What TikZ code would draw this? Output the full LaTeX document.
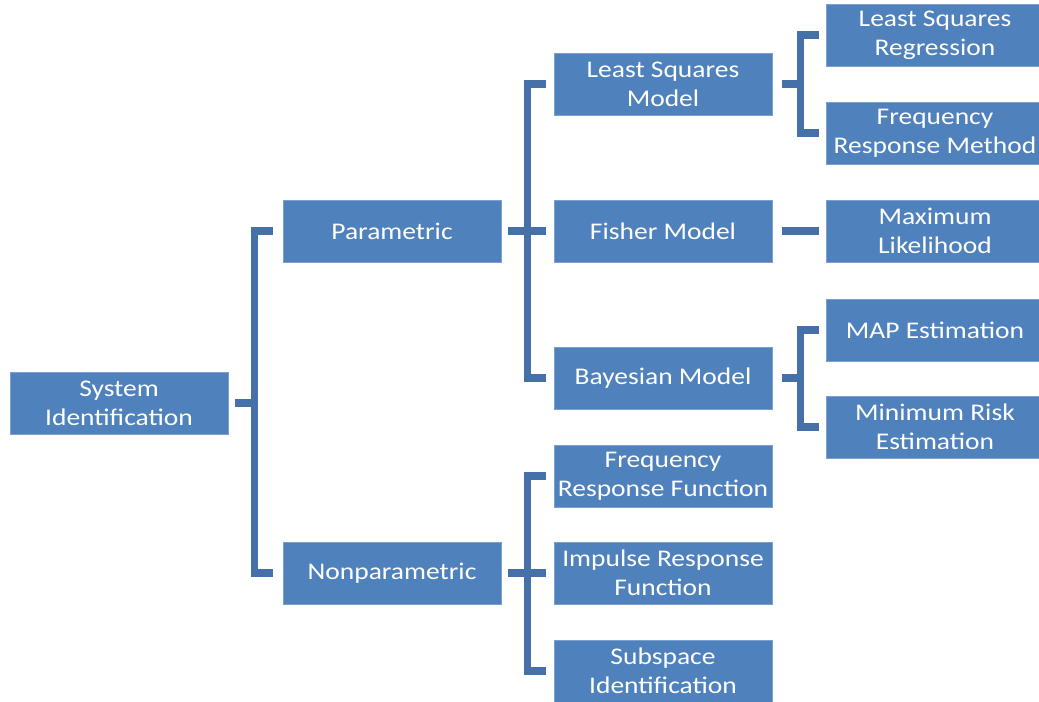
\documentclass[tikz,border=0pt]{standalone}
\usepackage{fontspec}
\setmainfont{Carlito}[FakeStretch=1.15]
\usepackage{xcolor}
\usepackage{tikz}
\usetikzlibrary{positioning,calc}
\definecolor{boxblue}{HTML}{4F81BD}
\definecolor{linkblue}{HTML}{4670A8}
\tikzset{
    idbox/.style={rectangle, fill=boxblue, draw=boxblue!75!white, line width=0.5pt,
        minimum width=5.45cm, minimum height=1.55cm, inner sep=0pt,
        text=white, align=center, font=\fontsize{17}{20.5}\selectfont},
    link/.style={linkblue, line width=5pt}
}

\begin{document}
\begin{tikzpicture}[x=0.025cm, y=-0.025cm]
    \useasboundingbox (0,0) rectangle (1039,702);

    % Root
    \node[idbox] (sysid) at (119,403) {System\\Identification};

    % Second level
    \node[idbox] (par) at (392,231) {Parametric};
    \node[idbox] (npar) at (392,573) {Nonparametric};

    % Parametric models
    \node[idbox] (lsm) at (663,84) {Least Squares\\Model};
    \node[idbox] (fis) at (663,231) {Fisher Model};
    \node[idbox] (bay) at (663,378) {Bayesian Model};

    % Nonparametric methods
    \node[idbox] (frf) at (663,476) {Frequency\\Response Function};
    \node[idbox] (irf) at (663,573) {Impulse Response\\Function};
    \node[idbox] (sub) at (663,671) {Subspace\\Identification};

    % Estimation methods
    \node[idbox] (lsr) at (935,35) {Least Squares\\Regression};
    \node[idbox] (frm) at (935,133) {Frequency\\Response Method};
    \node[idbox] (ml) at (935,231) {Maximum\\Likelihood};
    \node[idbox] (map) at (935,330) {MAP Estimation};
    \node[idbox] (mre) at (935,427) {Minimum Risk\\Estimation};

    % Bracket: system identification
    \coordinate (jsys) at ($(sysid.east)+(26,0)$);
    \draw[link] ($(sysid.east)+(7,0)$) -- (jsys);
    \draw[link] ($(par.west)+(-10,0)$) -| (jsys) |- ($(npar.west)+(-10,0)$);

    % Bracket: parametric
    \coordinate (jpar) at ($(par.east)+(26,0)$);
    \draw[link] ($(par.east)+(7,0)$) -- ($(fis.west)+(-8,0)$);
    \draw[link] ($(lsm.west)+(-8,0)$) -| (jpar) |- ($(bay.west)+(-8,0)$);

    % Bracket: nonparametric
    \coordinate (jnpar) at ($(npar.east)+(26,0)$);
    \draw[link] ($(npar.east)+(7,0)$) -- ($(irf.west)+(-8,0)$);
    \draw[link] ($(frf.west)+(-8,0)$) -| (jnpar) |- ($(sub.west)+(-8,0)$);

    % Bracket: least squares model
    \coordinate (jlsm) at ($(lsm.east)+(28,0)$);
    \draw[link] ($(lsm.east)+(10,0)$) -- (jlsm);
    \draw[link] ($(lsr.west)+(-7,0)$) -| (jlsm) |- ($(frm.west)+(-7,0)$);

    % Fisher model
    \draw[link] ($(fis.east)+(10,0)$) -- ($(ml.west)+(-7,0)$);

    % Bracket: bayesian model
    \coordinate (jbay) at ($(bay.east)+(28,0)$);
    \draw[link] ($(bay.east)+(10,0)$) -- (jbay);
    \draw[link] ($(map.west)+(-7,0)$) -| (jbay) |- ($(mre.west)+(-7,0)$);
\end{tikzpicture}
\end{document}
